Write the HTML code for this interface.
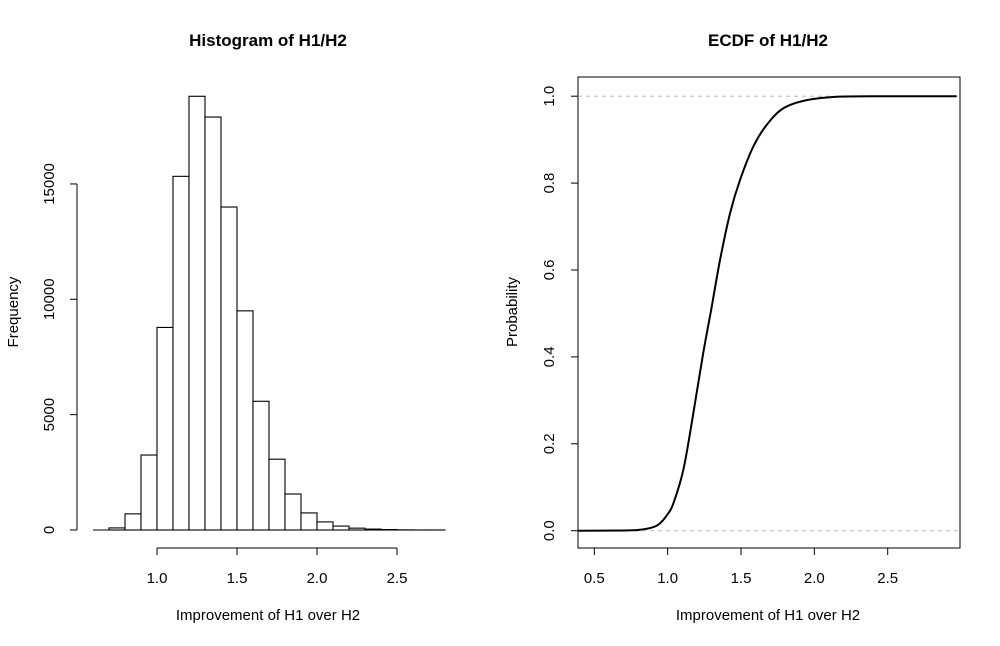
<!DOCTYPE html>
<html><head><meta charset="utf-8"><style>
body{margin:0;background:#fff;}
svg{display:block;font-family:"Liberation Sans",Arial,sans-serif;}
</style></head><body>
<svg id="chart" width="1000" height="646" viewBox="0 0 1000 646"></svg>
<script>
// Histogram data
const histBreaks = [0.6,0.7,0.8,0.9,1.0,1.1,1.2,1.3,1.4,1.5,1.6,1.7,1.8,1.9,2.0,2.1,2.2,2.3,2.4,2.5,2.6,2.7,2.8];
const histCounts = [0,90,700,3250,8780,15330,18800,17900,14000,9500,5580,3070,1560,740,350,170,80,40,20,6,2,1];
const histXTicks = [1.0,1.5,2.0,2.5];
const histXTickLabels = ["1.0","1.5","2.0","2.5"];
const histYTicks = [0,5000,10000,15000];
const histYTickLabels = ["0","5000","10000","15000"];
// ECDF data
const ecdfX = [0.39,0.7,0.81,0.90,0.948,1.0,1.039,1.107,1.175,1.243,1.30,1.357,1.425,1.493,1.584,1.675,1.788,1.948,2.175,2.5,2.97];
const ecdfP = [0,0.0005,0.002,0.008,0.017,0.038,0.063,0.14,0.27,0.41,0.515,0.623,0.73,0.807,0.884,0.934,0.972,0.991,0.999,1,1];
const ecdfXTicks = [0.5,1.0,1.5,2.0,2.5];
const ecdfXTickLabels = ["0.5","1.0","1.5","2.0","2.5"];
const ecdfYTicks = [0,0.2,0.4,0.6,0.8,1.0];
const ecdfYTickLabels = ["0.0","0.2","0.4","0.6","0.8","1.0"];

const NS="http://www.w3.org/2000/svg";
const svg=document.getElementById('chart');
const FS=15;
function mk(tag,attrs,parent,text){const e=document.createElementNS(NS,tag);for(const k in attrs)e.setAttribute(k,attrs[k]);if(text!==undefined)e.textContent=text;(parent||svg).appendChild(e);return e;}

// ---- Histogram ----
const hx=v=>157+(v-1.0)*160;
const hy=v=>530-v*0.02307;
const g1=mk('g',{});


let t=mk('text',{x:268,y:46,'text-anchor':'middle','font-size':17,'font-weight':'bold'},g1,'Histogram of H1/H2');


const base=mk('line',{x1:hx(histBreaks[0]),x2:hx(histBreaks[histBreaks.length-1]),y1:hy(0),y2:hy(0),stroke:'#000','stroke-width':1.1},g1);


for(let i=0;i<histCounts.length;i++){
  const x0=hx(histBreaks[i]),x1=hx(histBreaks[i+1]),y=hy(histCounts[i]);
  const r=mk('rect',{x:x0,y:y,width:x1-x0,height:530-y,fill:'#fff',stroke:'#000','stroke-width':1.1},g1);
  
  
}
const hxa=mk('g',{stroke:'#000','stroke-width':1},g1);


mk('line',{x1:hx(histXTicks[0]),x2:hx(histXTicks[histXTicks.length-1]),y1:548,y2:548},hxa);
histXTicks.forEach((v,i)=>{mk('line',{x1:hx(v),x2:hx(v),y1:548,y2:555},hxa);
  const l=mk('text',{x:hx(v),y:583,'text-anchor':'middle','font-size':FS,stroke:'none'},hxa,histXTickLabels[i]);
  
  });
const hya=mk('g',{stroke:'#000','stroke-width':1},g1);


mk('line',{x1:77,x2:77,y1:hy(histYTicks[0]),y2:hy(histYTicks[histYTicks.length-1])},hya);
histYTicks.forEach((v,i)=>{mk('line',{x1:70,x2:77,y1:hy(v),y2:hy(v)},hya);
  const l=mk('text',{x:0,y:0,transform:`translate(54,${hy(v)}) rotate(-90)`,'text-anchor':'middle','font-size':FS,stroke:'none'},hya,histYTickLabels[i]);
  
  });
t=mk('text',{x:268,y:620,'text-anchor':'middle','font-size':FS},g1,'Improvement of H1 over H2');


t=mk('text',{x:0,y:0,transform:'translate(18,312) rotate(-90)','text-anchor':'middle','font-size':FS},g1,'Frequency');



// ---- ECDF ----
const ex=v=>594.3+(v-0.5)*146.7;
const ey=p=>530.7-p*434.5;
const g2=mk('g',{});


t=mk('text',{x:768,y:46,'text-anchor':'middle','font-size':17,'font-weight':'bold'},g2,'ECDF of H1/H2');


const box=mk('rect',{x:578,y:77,width:382,height:471,fill:'none',stroke:'#000','stroke-width':1},g2);


[0,1].forEach(p=>{const l=mk('line',{x1:578,x2:960,y1:ey(p),y2:ey(p),stroke:'#bbb','stroke-width':1,'stroke-dasharray':'4,4'},g2);
  
  });
const P=ecdfX.map((v,i)=>[ex(v),ey(ecdfP[i])]);
let d=`M${P[0][0].toFixed(1)},${P[0][1].toFixed(1)}`;
for(let i=0;i<P.length-1;i++){
  const p0=P[Math.max(0,i-1)],p1=P[i],p2=P[i+1],p3=P[Math.min(P.length-1,i+2)];
  const c1=[p1[0]+(p2[0]-p0[0])/6,p1[1]+(p2[1]-p0[1])/6];
  const c2=[p2[0]-(p3[0]-p1[0])/6,p2[1]-(p3[1]-p1[1])/6];
  c1[1]=Math.min(Math.max(c1[1],Math.min(p1[1],p2[1])),Math.max(p1[1],p2[1]));
  c2[1]=Math.min(Math.max(c2[1],Math.min(p1[1],p2[1])),Math.max(p1[1],p2[1]));
  d+=` C${c1[0].toFixed(1)},${c1[1].toFixed(1)} ${c2[0].toFixed(1)},${c2[1].toFixed(1)} ${p2[0].toFixed(1)},${p2[1].toFixed(1)}`;
}
const pl=mk('path',{d:d,fill:'none',stroke:'#000','stroke-width':2,'stroke-linejoin':'round'},g2);


const exa=mk('g',{stroke:'#000','stroke-width':1},g2);


ecdfXTicks.forEach((v,i)=>{mk('line',{x1:ex(v),x2:ex(v),y1:548,y2:555},exa);
  const l=mk('text',{x:ex(v),y:583,'text-anchor':'middle','font-size':FS,stroke:'none'},exa,ecdfXTickLabels[i]);
  
  });
const eya=mk('g',{stroke:'#000','stroke-width':1},g2);


ecdfYTicks.forEach((v,i)=>{mk('line',{x1:571,x2:578,y1:ey(v),y2:ey(v)},eya);
  const l=mk('text',{x:0,y:0,transform:`translate(554,${ey(v)}) rotate(-90)`,'text-anchor':'middle','font-size':FS,stroke:'none'},eya,ecdfYTickLabels[i]);
  
  });
t=mk('text',{x:768,y:620,'text-anchor':'middle','font-size':FS},g2,'Improvement of H1 over H2');


t=mk('text',{x:0,y:0,transform:'translate(517,312) rotate(-90)','text-anchor':'middle','font-size':FS},g2,'Probability');


</script>
</body></html>
